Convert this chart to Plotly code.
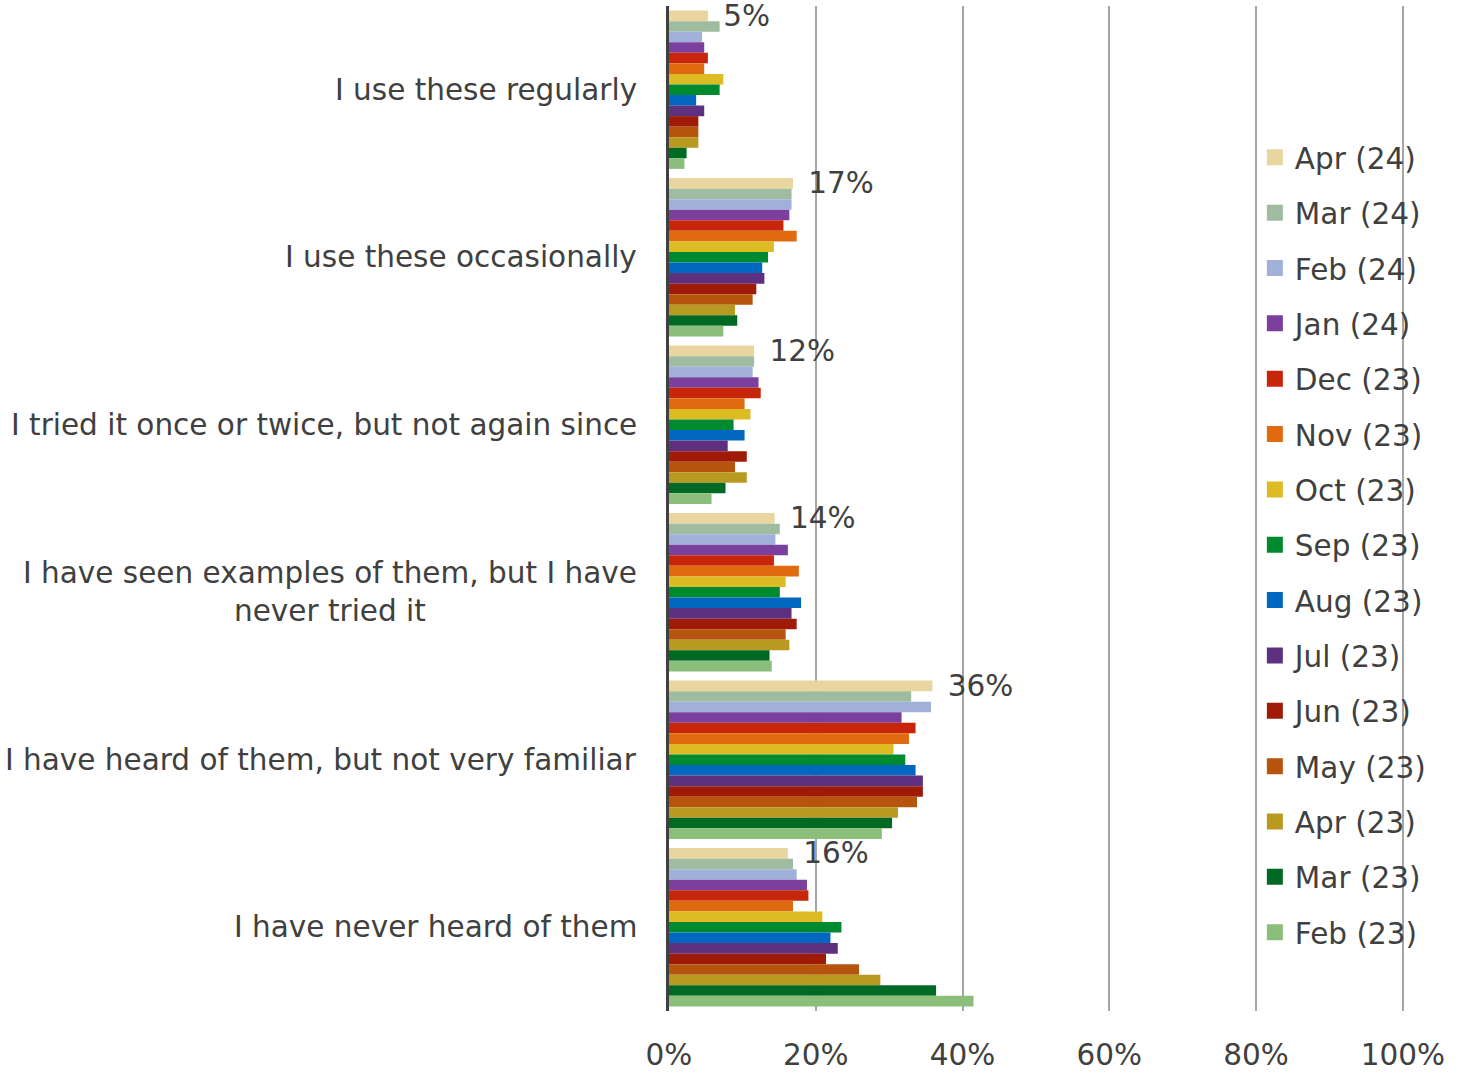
import plotly.graph_objects as go

categories = [
    "I use these regularly",
    "I use these occasionally",
    "I tried it once or twice, but not again since",
    "I have seen examples of them, but I have<br>never tried it",
    "I have heard of them, but not very familiar",
    "I have never heard of them",
]

series_names = ["Apr (24)", "Mar (24)", "Feb (24)", "Jan (24)", "Dec (23)", "Nov (23)",
                "Oct (23)", "Sep (23)", "Aug (23)", "Jul (23)", "Jun (23)", "May (23)",
                "Apr (23)", "Mar (23)", "Feb (23)"]

colors = ["#E8D5A0", "#A0BCA0", "#A0B0D8", "#7B3F9E", "#C8260A", "#E06A10",
          "#DCBC22", "#008A30", "#0066C0", "#5E3080", "#A01A08", "#B5540C",
          "#B89A20", "#006A24", "#8ABE7A"]

# values (%) per series, in category order
apr24 = [5.3, 16.9, 11.6, 14.4, 35.9, 16.2]
mar24 = [6.9, 16.7, 11.6, 15.1, 33.0, 16.9]
feb24 = [4.5, 16.7, 11.4, 14.5, 35.7, 17.4]
jan24 = [4.8, 16.4, 12.2, 16.2, 31.7, 18.8]
dec23 = [5.3, 15.6, 12.5, 14.3, 33.6, 19.0]
nov23 = [4.8, 17.4, 10.3, 17.7, 32.7, 16.9]
oct23 = [7.4, 14.3, 11.1, 15.9, 30.6, 20.9]
sep23 = [6.9, 13.5, 8.8, 15.1, 32.2, 23.5]
aug23 = [3.7, 12.7, 10.3, 18.0, 33.6, 22.0]
jul23 = [4.8, 13.0, 8.0, 16.7, 34.6, 23.0]
jun23 = [4.0, 11.9, 10.6, 17.4, 34.6, 21.4]
may23 = [4.0, 11.4, 9.0, 15.9, 33.8, 25.9]
apr23 = [4.0, 9.0, 10.6, 16.4, 31.2, 28.8]
mar23 = [2.4, 9.3, 7.7, 13.7, 30.4, 36.4]
feb23 = [2.1, 7.4, 5.8, 14.0, 29.0, 41.5]

series_values = [apr24, mar24, feb24, jan24, dec23, nov23, oct23, sep23,
                 aug23, jul23, jun23, may23, apr23, mar23, feb23]

x_ticks = [0, 20, 40, 60, 80, 100]

TXT = "#404040"
FONT = "DejaVu Sans"
FS = 29.5

fig = go.Figure()
for i, (name, vals, col) in enumerate(zip(series_names, series_values, colors)):
    kw = {}
    if i == 0:
        kw = dict(texttemplate="\u00a0\u200a%{x:.0f}%", textposition="outside",
                  textfont=dict(family=FONT, size=FS, color=TXT),
                  constraintext="none", cliponaxis=False)
    fig.add_trace(go.Bar(
        y=categories, x=vals, name=name, orientation="h",
        marker=dict(color=col, line=dict(width=0)),
        showlegend=False, hoverinfo="x+name", **kw))

# legend entries
for name, col in zip(series_names, colors):
    fig.add_trace(go.Scatter(
        x=[None], y=[None], mode="markers", name=name, legendgroup=name,
        marker=dict(symbol="square", size=16, color=col), showlegend=True))

annotations = []
for c in categories:
    annotations.append(dict(
        x=0, xref="x", y=c, yref="y", text=c, showarrow=False,
        xanchor="right", yanchor="middle", xshift=-30, align="center",
        font=dict(family=FONT, size=FS, color=TXT)))

fig.update_layout(
    width=1463, height=1073,
    margin=dict(l=669, r=58, t=6, b=62, autoexpand=False),
    paper_bgcolor="white", plot_bgcolor="white",
    barmode="group", bargap=0.055, bargroupgap=0,
    font=dict(family=FONT, size=FS, color=TXT),
    showlegend=True,
    legend=dict(x=0.796, xanchor="left", y=0.875, yanchor="top",
                bgcolor="rgba(0,0,0,0)", traceorder="grouped",
                tracegroupgap=14, font=dict(family=FONT, size=FS, color=TXT)),
    annotations=annotations,
)
fig.update_xaxes(range=[0, 100.3], tickvals=x_ticks, ticktext=[f"{v}%" for v in x_ticks],
                 showgrid=True, gridcolor="#A6A6A6", gridwidth=2, zeroline=False,
                 showline=False, ticks="", ticklabelstandoff=23, automargin=False,
                 tickfont=dict(family=FONT, size=FS, color=TXT))
fig.update_yaxes(autorange="reversed", showticklabels=False, showgrid=False,
                 showline=True, linecolor="#404040", linewidth=3, zeroline=False,
                 ticks="", automargin=False)

fig.write_html("out.html", config={"displayModeBar": False},
               post_script="document.body.style.margin='0px';")
